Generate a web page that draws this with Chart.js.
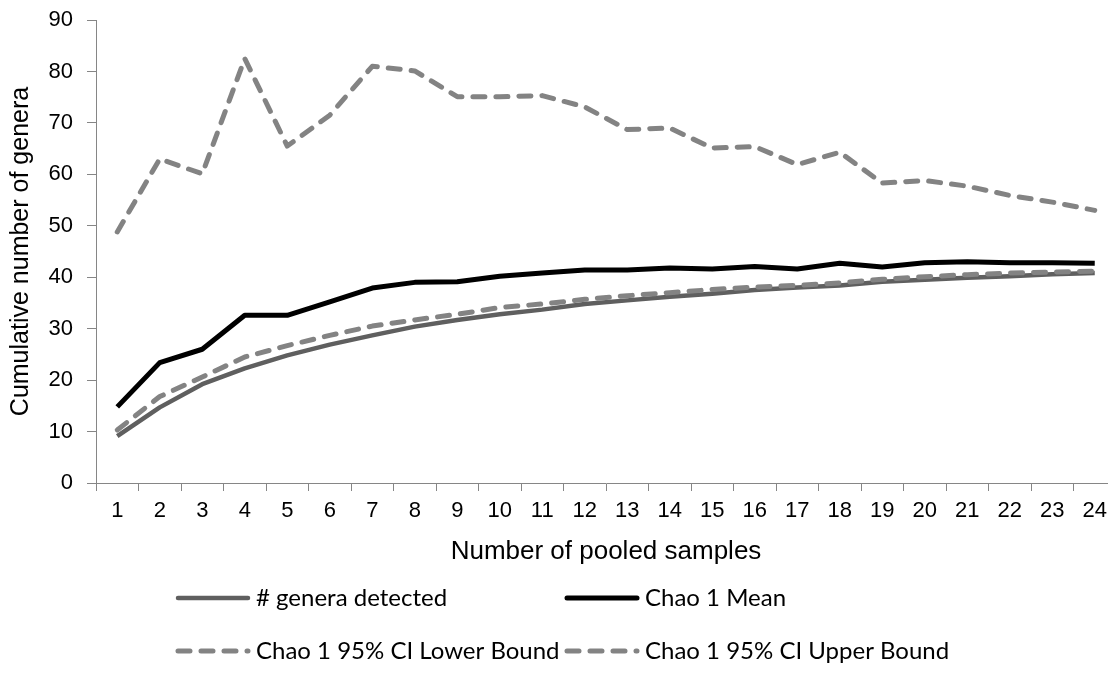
<!DOCTYPE html>
<html>
<head>
<meta charset="utf-8">
<script src="https://cdn.jsdelivr.net/npm/chart.js@4/dist/chart.umd.min.js"></script>
<style>
  html, body { margin: 0; padding: 0; background: #fff; overflow: hidden; }
  #wrap { width: 1108px; height: 690px; overflow: hidden; }
</style>
</head>
<body>
<div id="wrap"><canvas id="generaChart" width="1130" height="690"></canvas></div>
<script>
// pooled sample counts on the x axis
const samples = ['1', '2', '3', '4', '5', '6', '7', '8', '9', '10', '11', '12',
                 '13', '14', '15', '16', '17', '18', '19', '20', '21', '22', '23', '24'];

const generaDetected = [9.1, 14.7, 19.2, 22.3, 24.8, 26.9, 28.7, 30.4, 31.7, 32.8, 33.7, 34.8,
                        35.5, 36.2, 36.8, 37.5, 38.0, 38.4, 39.1, 39.5, 39.9, 40.2, 40.6, 40.8];
const chaoMean = [14.8, 23.4, 26.0, 32.6, 32.6, 35.2, 37.9, 39.0, 39.1, 40.2, 40.8, 41.4,
                  41.4, 41.8, 41.6, 42.1, 41.6, 42.7, 42.0, 42.8, 43.0, 42.8, 42.8, 42.7];
const chaoLower = [10.3, 16.8, 20.6, 24.5, 26.7, 28.7, 30.5, 31.7, 32.8, 34.1, 34.8, 35.7,
                   36.4, 37.0, 37.6, 38.1, 38.4, 38.9, 39.6, 40.1, 40.5, 40.8, 41.0, 41.2];
const chaoUpper = [48.8, 63.0, 60.1, 82.5, 65.5, 71.5, 81.0, 80.1, 75.1, 75.1, 75.3, 73.1,
                   68.7, 69.0, 65.1, 65.4, 61.9, 64.3, 58.3, 58.8, 57.7, 55.9, 54.6, 53.0];

const yTicks = [0, 10, 20, 30, 40, 50, 60, 70, 80, 90];

const axisGray = '#868686';
const axisFont = "'Liberation Sans', Arial, sans-serif";

// two-column legend under the x axis title
const gridLegend = {
  id: 'gridLegend',
  afterDraw(chart) {
    const ctx = chart.ctx;
    const cols = [178, 567];
    const rows = [598, 651];
    chart.data.datasets.forEach((ds, i) => {
      const x = cols[i % 2];
      const y = rows[Math.floor(i / 2)];
      ctx.save();
      ctx.strokeStyle = ds.borderColor;
      ctx.lineWidth = ds.borderWidth;
      ctx.lineCap = 'round';
      ctx.setLineDash(ds.borderDash || []);
      ctx.beginPath();
      ctx.moveTo(x, y);
      ctx.lineTo(x + 70, y);
      ctx.stroke();
      ctx.setLineDash([]);
      ctx.fillStyle = '#000';
      ctx.font = '24px Lato';
      ctx.textBaseline = 'middle';
      ctx.fillText(ds.label, x + 78, y);
      ctx.restore();
    });
  }
};

const ctx = document.getElementById('generaChart').getContext('2d');
const chart = new Chart(ctx, {
  type: 'line',
  data: {
    labels: samples,
    datasets: [{
      label: '# genera detected',
      data: generaDetected,
      borderColor: '#5f5f5f',
      borderWidth: 4.5,
      order: 4
    }, {
      label: 'Chao 1 Mean',
      data: chaoMean,
      borderColor: '#000000',
      borderWidth: 5,
      order: 3
    }, {
      label: 'Chao 1 95% CI Lower Bound',
      data: chaoLower,
      borderColor: '#838383',
      borderWidth: 5,
      borderDash: [12, 11],
      borderCapStyle: 'round',
      order: 2
    }, {
      label: 'Chao 1 95% CI Upper Bound',
      data: chaoUpper,
      borderColor: '#838383',
      borderWidth: 5,
      borderDash: [12, 11],
      borderCapStyle: 'round',
      order: 1
    }]
  },
  options: {
    responsive: false,
    animation: false,
    devicePixelRatio: 1,
    elements: {
      point: { radius: 0 },
      line: { tension: 0, borderJoinStyle: 'round' }
    },
    layout: { padding: { top: 20, right: 14, bottom: 119, left: 0 } },
    plugins: {
      legend: { display: false },
      tooltip: { enabled: false }
    },
    scales: {
      x: {
        offset: true,
        grid: { offset: true, drawOnChartArea: false, tickLength: 8, color: axisGray },
        border: { color: axisGray, width: 1 },
        ticks: { color: '#000', padding: 7, maxRotation: 0, autoSkip: false,
                 font: { family: axisFont, size: 22 } },
        title: { display: true, text: 'Number of pooled samples', color: '#000',
                 padding: { top: 0, bottom: 4 }, font: { family: axisFont, size: 26 } },
        afterFit: scale => {
          scale.height = 88;
          scale.paddingLeft = 0;
          scale.paddingRight = 0;
        }
      },
      y: {
        min: 0,
        max: 90,
        afterBuildTicks: scale => { scale.ticks = yTicks.map(v => ({ value: v })); },
        grid: { drawOnChartArea: false, tickLength: 9, color: axisGray },
        border: { color: axisGray, width: 1 },
        ticks: { color: '#000', padding: 14, font: { family: axisFont, size: 22 } },
        title: { display: true, text: 'Cumulative number of genera', color: '#000',
                 padding: { top: 6, bottom: 0 }, font: { family: axisFont, size: 25 } },
        afterFit: scale => {
          scale.width = 96;
          scale.paddingTop = 0;
          scale.paddingBottom = 0;
        }
      }
    }
  },
  plugins: [gridLegend]
});
</script>
</body>
</html>
